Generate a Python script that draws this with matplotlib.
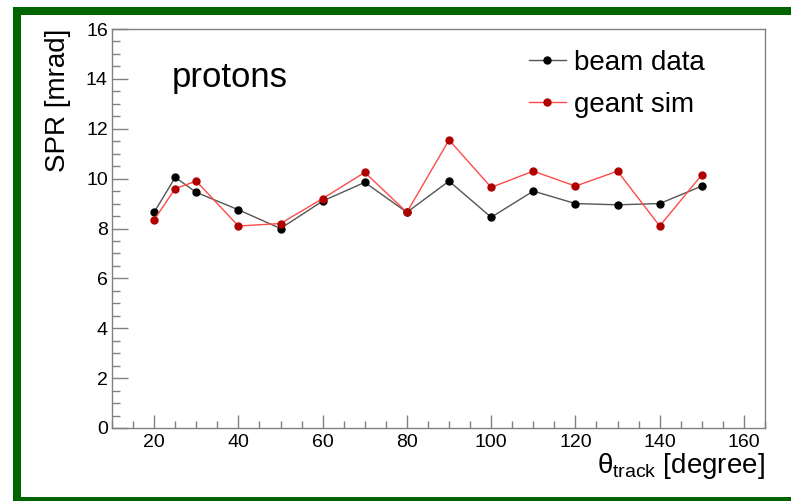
import matplotlib
matplotlib.use("Agg")
from matplotlib import pyplot as plt
from matplotlib.patches import Rectangle
from matplotlib.ticker import MultipleLocator

plt.rcParams['font.family'] = ['Liberation Sans', 'DejaVu Sans']
plt.rcParams['mathtext.fontset'] = 'custom'
plt.rcParams['mathtext.rm'] = 'Liberation Sans'
plt.rcParams['mathtext.it'] = 'Liberation Sans'
plt.rcParams['mathtext.bf'] = 'Liberation Sans:bold'

##################### {[ DATA ]} #####################

theta = [20, 25, 30, 40, 50, 60, 70, 80, 90, 100, 110, 120, 130, 140, 150]
beam_data = [8.65, 10.05, 9.45, 8.75, 8.0, 9.1, 9.85, 8.65, 9.9, 8.45, 9.5, 9.0, 8.95, 9.0, 9.7]
geant_sim = [8.35, 9.6, 9.9, 8.1, 8.2, 9.2, 10.25, 8.65, 11.55, 9.65, 10.3, 9.7, 10.3, 8.1, 10.15]

##################### {[ PLOT ]} #####################

W, H = 791, 501
fig = plt.figure(figsize=(W / 100, H / 100), dpi=100)
ax = fig.add_axes([112 / W, (H - 428) / H, 653 / W, (428 - 29) / H])

# green frame round the canvas
frame = Rectangle((17 / W, 0), (830 - 17) / W, (H - 11) / H, transform=fig.transFigure,
                  fill=False, edgecolor='#006400', linewidth=8 * 0.72, clip_on=False)
fig.patches.append(frame)

ax.plot(theta, beam_data, color='#555555', lw=1.0, marker='o', ms=5,
        mfc='black', mec='black', label='beam data')
ax.plot(theta, geant_sim, color='#ff4a4a', lw=1.0, marker='o', ms=5,
        mfc='#b00000', mec='#b00000', label='geant sim')

ax.set_xlim(10, 165)
ax.set_ylim(0, 16)
ax.xaxis.set_major_locator(MultipleLocator(20))
ax.xaxis.set_minor_locator(MultipleLocator(5))
ax.yaxis.set_major_locator(MultipleLocator(2))
ax.yaxis.set_minor_locator(MultipleLocator(0.5))

for s in ax.spines.values():
    s.set_color('#808080')
    s.set_linewidth(1.0)

ax.tick_params(which='both', direction='in', color='#808080', width=1.0,
               top=False, right=False, labelsize=14)
ax.tick_params(axis='x', which='major', length=9.1, pad=4)
ax.tick_params(axis='x', which='minor', length=4.8)
ax.tick_params(axis='y', which='major', length=11.3, pad=3)
ax.tick_params(axis='y', which='minor', length=5.7)

ax.set_xlabel(r'$\theta_{\rm track}$ [degree]', fontsize=20, loc='right', labelpad=0)
ax.set_ylabel('SPR [mrad]', fontsize=20, loc='top', labelpad=11)

ax.text(24.2, 13.67, 'protons', fontsize=25, ha='left', va='baseline')

ax.legend(loc='upper left', bbox_to_anchor=(0.621, 0.975), frameon=False, fontsize=20,
          handlelength=1.35, handletextpad=0.3, labelspacing=0.57, borderaxespad=0)

fig.savefig('out.png', dpi=100)
